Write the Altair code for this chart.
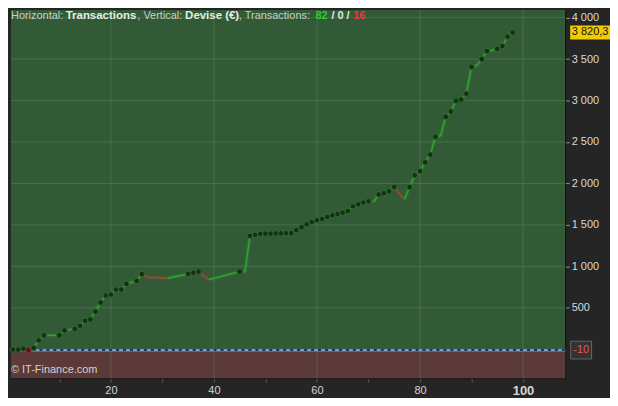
import altair as alt
import pandas as pd

# Equity curve: transaction number -> equity (EUR)
trade_no = [1, 2, 3, 4, 5, 6, 7, 10, 11, 13, 14, 15, 16, 17, 18, 19, 20, 21, 22, 23,
            25, 26, 27, 31, 35, 36, 37, 39, 45, 46, 47, 48, 49, 50, 51, 52, 53, 54, 55,
            56, 57, 58, 59, 60, 61, 62, 63, 64, 65, 66, 67, 68, 69, 70, 71, 72, 73, 74,
            75, 76, 77, 78, 79, 80, 81, 82, 83, 84, 85, 86, 87, 88, 89, 90, 91, 92, 93,
            94, 95, 96, 97, 98]
equity = [-4, -4, 8, -10, 16, 108, 168, 168, 228, 248, 284, 344, 360, 456, 564, 648, 660, 720, 720, 788,
          824, 908, 868, 856, 908, 924, 936, 840, 936, 926, 1368, 1380, 1390, 1394, 1396, 1398, 1398, 1400, 1400,
          1436, 1472, 1508, 1536, 1556, 1572, 1596, 1616, 1632, 1648, 1668, 1724, 1748, 1770, 1784, 1776, 1868, 1882, 1906,
          1958, 1880, 1808, 1956, 2098, 2148, 2254, 2348, 2564, 2572, 2804, 2868, 2998, 3012, 3082, 3406, 3420, 3500, 3596,
          3604, 3624, 3656, 3770, 3820.3]
# transactions drawn without a dot
no_dot = [27, 31, 39, 46, 71, 76, 77, 84, 91, 94]

x_ticks = [10, 20, 30, 40, 50, 60, 70, 80, 90, 100]
x_grid = [20, 40, 60, 80, 100]
y_grid = [500, 1000, 1500, 2000, 2500, 3000, 3500, 4000]

# header: text, bold, colour
header = [("Horizontal:", False, "#c8d0c8"), ("Transactions", True, "#e6ece6"),
          (", Vertical:", False, "#c8d0c8"), ("Devise (€)", True, "#e6ece6"),
          (", Transactions:", False, "#c8d0c8"), ("82", True, "#2ecc2e"),
          ("/ 0 /", True, "#e6ece6"), ("16", True, "#e23b3b")]
header_x = [0, 55, 127, 175, 229, 306, 322, 344]

W, H = 557, 370
FONT = "Liberation Sans"
GREEN_BG = "#335a36"
RED_BG = "#5c3a3a"
LINE_GREEN = "#2fa82f"
LINE_RED = "#9c4a36"

xs = alt.Scale(domain=[0.6, 108.2], nice=False, zero=False)
ys = alt.Scale(domain=[-348, 4092], nice=False, zero=False)

pts = pd.DataFrame({"n": trade_no, "eq": equity})
pts["kind"] = ["loss" if i > 0 and equity[i] < equity[i - 1] else "win" for i in range(len(equity))]
dots = pts[~pts["n"].isin(no_dot)]

seg = pd.DataFrame({"n0": trade_no[:-1], "e0": equity[:-1], "n1": trade_no[1:], "e1": equity[1:]})
seg["kind"] = ["loss" if b < a else "win" for a, b in zip(seg["e0"], seg["e1"])]

low = pts.loc[pts["eq"].idxmin()]
last = pts.iloc[-1]
low_df = pd.DataFrame({"n": [low["n"]], "eq": [low["eq"]], "t": [f"{low['eq']:.0f}"]})
last_df = pd.DataFrame({"eq": [last["eq"]],
                        "t": [f"{last['eq']:,.1f}".replace(",", " ").replace(".", ",")]})

x_axis = alt.Axis(values=x_ticks, title=None, grid=False, labelOverlap=False,
                  labelExpr="datum.value % 20 == 0 ? datum.label : ''",
                  labelFontWeight=alt.condition("datum.value == 100", alt.value("bold"), alt.value("normal")),
                  labelFontSize=alt.condition("datum.value == 100", alt.value(13), alt.value(11)),
                  labelColor="#d6d6d6", labelFont=FONT, labelPadding=2,
                  tickColor="#5a5a5a", tickSize=4, domainColor="#111111")
y_axis = alt.Axis(values=y_grid, orient="right", title=None, grid=False, labelOverlap=False,
                  labelExpr="replace(format(datum.value, ','), ',', ' ')",
                  labelColor="#d9d9d9", labelFont=FONT, labelFontSize=11, labelPadding=2,
                  tickColor="#9a9a9a", tickSize=4, domainColor="#111111")


def X(field):
    return alt.X(field, scale=xs, axis=x_axis)


def Y(field):
    return alt.Y(field, scale=ys, axis=y_axis)


# red zone under the lowest equity
zone = alt.Chart(pd.DataFrame({"top": [-25], "bottom": [-348]})).mark_rect(color=RED_BG).encode(
    x=alt.value(0), x2=alt.value(W), y=Y("top:Q"), y2="bottom:Q")
zone_edge = alt.Chart(pd.DataFrame({"top": [-25]})).mark_rule(color="#b07484", strokeWidth=1, opacity=0.7).encode(
    y=Y("top:Q"))

vgrid = alt.Chart(pd.DataFrame({"g": x_grid})).mark_rule(color="#6a9a6c", opacity=0.35).encode(x=X("g:Q"))
hgrid = alt.Chart(pd.DataFrame({"g": y_grid})).mark_rule(color="#6a9a6c", opacity=0.35).encode(y=Y("g:Q"))

low_base = alt.Chart(low_df).mark_rule(color="#2c2c72", strokeWidth=2).encode(
    x=X("n:Q"), x2=alt.value(W), y=Y("eq:Q"))
low_dash = alt.Chart(low_df).mark_rule(color="#7fcdf0", strokeWidth=1.5, strokeDash=[4, 3]).encode(
    x=X("n:Q"), x2=alt.value(W), y=Y("eq:Q"))

seg_color = alt.Color("kind:N", scale=alt.Scale(domain=["win", "loss"], range=[LINE_GREEN, LINE_RED]), legend=None)
halo = alt.Chart(seg).mark_rule(strokeWidth=4, opacity=0.22).encode(
    x=X("n0:Q"), x2="n1:Q", y=Y("e0:Q"), y2="e1:Q", color=seg_color)
line = alt.Chart(seg).mark_rule(strokeWidth=1.4).encode(
    x=X("n0:Q"), x2="n1:Q", y=Y("e0:Q"), y2="e1:Q", color=seg_color)

points = alt.Chart(dots).mark_circle(size=32, opacity=1, strokeWidth=1).encode(
    x=X("n:Q"), y=Y("eq:Q"),
    fill=alt.condition("datum.kind == 'loss'", alt.value("#5a1616"), alt.value("#163016")),
    stroke=alt.condition("datum.kind == 'loss'", alt.value("#8c2c2c"), alt.value("#2f6e2f")))

texts = []
for (t, bold, col), px in zip(header, header_x):
    texts.append(alt.Chart(pd.DataFrame({"t": [t]})).mark_text(
        align="left", baseline="middle", font=FONT, fontSize=11.5 if bold and len(t) > 5 else 11,
        fontWeight="bold" if bold else "normal", color=col).encode(
        x=alt.value(px), y=alt.value(6), text="t:N"))

copyright = alt.Chart(pd.DataFrame({"t": ["© IT-Finance.com"]})).mark_text(
    align="left", baseline="middle", font=FONT, fontSize=11, color="#d2d2d2").encode(
    x=alt.value(0), y=alt.value(H - 8), text="t:N")

last_box = alt.Chart(last_df).mark_point(
    shape="M-1,-0.35L1,-0.35L1,0.35L-1,0.35Z", size=1600, filled=True, fill="#f2cc00", opacity=1).encode(
    x=alt.value(582), y=Y("eq:Q"))
last_text = alt.Chart(last_df).mark_text(font=FONT, fontSize=11, color="#111111", baseline="middle").encode(
    x=alt.value(582), y=Y("eq:Q"), text="t:N")

low_box = alt.Chart(low_df).mark_point(
    shape="M-1,-0.85L1,-0.85L1,0.85L-1,0.85Z", size=441, filled=True, fill="#333333",
    stroke="#666666", strokeWidth=1, opacity=1).encode(
    x=alt.value(573), y=Y("eq:Q"))
low_text = alt.Chart(low_df).mark_text(font=FONT, fontSize=11, color="#e05a5a", baseline="middle").encode(
    x=alt.value(573), y=Y("eq:Q"), text="t:N")

chart = alt.layer(
    zone, vgrid, hgrid, zone_edge, low_base, low_dash, halo, line, points,
    *texts, copyright, last_box, last_text, low_box, low_text
).properties(
    width=W, height=H, padding=0, background="#252525"
).configure_view(
    fill=GREEN_BG, stroke=None
)

chart.save("out.html", embed_options={"renderer": "svg", "actions": False})
